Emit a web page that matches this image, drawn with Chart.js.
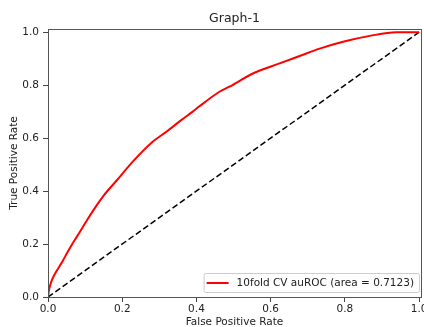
<!DOCTYPE html>
<html>
<head>
<meta charset="utf-8">
<script src="https://cdn.jsdelivr.net/npm/chart.js@4.4.0/dist/chart.umd.min.js"></script>
<style>
  html, body { margin: 0; padding: 0; background: #fff; }
</style>
</head>
<body>
<canvas id="roc" width="424" height="327"></canvas>
<script>
// ROC curve
const fpr = [0, 0.002, 0.005, 0.01, 0.017, 0.024, 0.04, 0.051, 0.065, 0.078, 0.105, 0.132, 0.15, 0.185,
  0.229, 0.282, 0.319, 0.359, 0.39, 0.408, 0.462, 0.489, 0.552, 0.624, 0.678, 0.732, 0.795,
  0.867, 0.938, 1.0];
const tpr = [0, 0.02, 0.04, 0.062, 0.083, 0.1, 0.137, 0.165, 0.199, 0.228, 0.29, 0.348, 0.383, 0.44,
  0.512, 0.586, 0.624, 0.668, 0.7, 0.72, 0.775, 0.794, 0.844, 0.882, 0.91, 0.938, 0.964,
  0.986, 1.0, 1.0];
const chanceX = [0, 1];
const chanceY = [0, 1];
const xTicks = [0, 0.2, 0.4, 0.6, 0.8, 1.0];
const yTicks = [0, 0.2, 0.4, 0.6, 0.8, 1.0];
const rocLabel = '10fold CV auROC (area = 0.7123)';

Chart.defaults.font.family = "'DejaVu Sans', sans-serif";
Chart.defaults.color = '#222';

const toPoints = (xs, ys) => xs.map((x, i) => ({ x: x, y: ys[i] }));

// matplotlib style box around the axes
const frame = {
  id: 'frame',
  afterDatasetsDraw(chart) {
    const { ctx, chartArea: a } = chart;
    ctx.save();
    ctx.strokeStyle = '#555';
    ctx.lineWidth = 1;
    ctx.strokeRect(a.left + 0.5, a.top + 0.5, a.right - a.left, a.bottom - a.top);
    ctx.restore();
  }
};

// legend box in the lower right corner of the plot
const cornerLegend = {
  id: 'cornerLegend',
  afterDraw(chart) {
    const { ctx, chartArea: a } = chart;
    const ds = chart.data.datasets[0];
    ctx.save();
    ctx.font = "10.5px 'DejaVu Sans', sans-serif";
    const w = 33 + ctx.measureText(ds.label).width + 5;
    const h = 19;
    const x = a.right - 2 - w;
    const y = a.bottom - 5 - h;
    ctx.beginPath();
    ctx.roundRect(x + 0.5, y + 0.5, w, h, 2);
    ctx.fillStyle = 'rgba(255,255,255,0.8)';
    ctx.fill();
    ctx.strokeStyle = '#ccc';
    ctx.lineWidth = 1;
    ctx.stroke();
    ctx.beginPath();
    ctx.moveTo(x + 3, y + h / 2 + 0.5);
    ctx.lineTo(x + 25, y + h / 2 + 0.5);
    ctx.strokeStyle = ds.borderColor;
    ctx.lineWidth = 2;
    ctx.stroke();
    ctx.fillStyle = '#222';
    ctx.textBaseline = 'middle';
    ctx.fillText(ds.label, x + 33, y + h / 2 + 1);
    ctx.restore();
  }
};

new Chart(document.getElementById('roc'), {
  type: 'line',
  data: {
    datasets: [
      {
        label: rocLabel,
        data: toPoints(fpr, tpr),
        borderColor: '#ff0000',
        borderWidth: 2,
        pointRadius: 0,
        cubicInterpolationMode: 'monotone'
      },
      {
        label: 'chance',
        data: toPoints(chanceX, chanceY),
        borderColor: '#000',
        borderWidth: 1.5,
        borderDash: [6, 3],
        pointRadius: 0
      }
    ]
  },
  options: {
    responsive: false,
    animation: false,
    layout: { padding: { left: 0, right: 3, top: 0, bottom: 0 } },
    plugins: {
      legend: { display: false },
      tooltip: { enabled: false },
      title: {
        display: true,
        text: 'Graph-1',
        fullSize: false,
        color: '#222',
        font: { size: 12.5, weight: 'normal' },
        padding: { top: 11, bottom: 3 }
      }
    },
    scales: {
      x: {
        type: 'linear',
        min: 0,
        max: 1.005,
        grid: { drawOnChartArea: false, drawTicks: true, tickLength: 5, color: '#444' },
        border: { display: true, color: '#555' },
        ticks: {
          padding: 1,
          maxRotation: 0,
          autoSkip: false,
          font: { size: 10.5 },
          callback: v => v.toFixed(1)
        },
        afterBuildTicks: s => { s.ticks = xTicks.map(v => ({ value: v })); },
        afterFit: s => { s.height = 30; s.paddingLeft = 0; s.paddingRight = 0; },
        title: {
          display: true,
          text: 'False Positive Rate',
          font: { size: 10.5 },
          padding: { top: 0, bottom: -1.5 }
        }
      },
      y: {
        type: 'linear',
        min: 0,
        max: 1.012,
        grid: { drawOnChartArea: false, drawTicks: true, tickLength: 5, color: '#444' },
        border: { display: true, color: '#555' },
        ticks: {
          padding: 4,
          autoSkip: false,
          font: { size: 10.5 },
          callback: v => v.toFixed(1)
        },
        afterBuildTicks: s => { s.ticks = yTicks.map(v => ({ value: v })); },
        afterFit: s => { s.width = 48; s.paddingTop = 0; s.paddingBottom = 0; },
        title: {
          display: true,
          text: 'True Positive Rate',
          font: { size: 10.5 },
          padding: { top: 8, bottom: 0 }
        }
      }
    }
  },
  plugins: [frame, cornerLegend]
});
</script>
</body>
</html>
